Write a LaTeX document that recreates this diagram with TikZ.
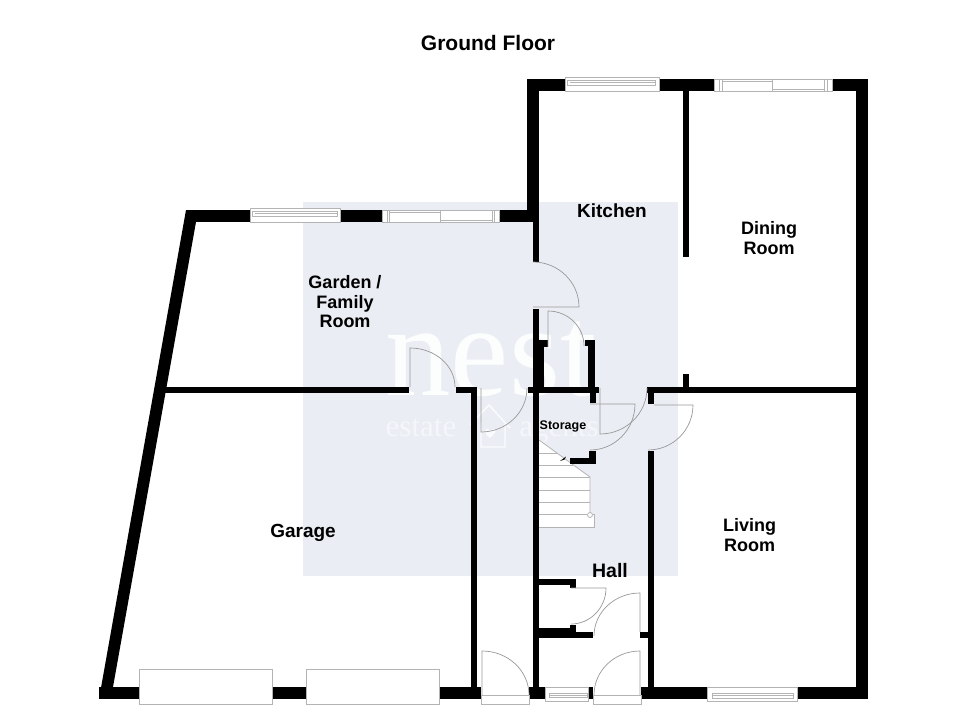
\documentclass[tikz,border=0pt]{standalone}
\usepackage{fontspec}
\setmainfont{Liberation Sans}
\newfontfamily\wmfont{Liberation Serif}
\usetikzlibrary{calc}
\definecolor{wmbg}{HTML}{EAEDF3}
\definecolor{doorgrey}{HTML}{999999}
\definecolor{wingrey}{HTML}{B4B4B4}
\tikzset{
  wallfill/.style={fill=black},
  doorline/.style={draw=doorgrey,line width=0.7pt},
  winbox/.style={draw=wingrey,fill=white,line width=0.9pt},
  winline/.style={draw=wingrey,line width=0.7pt},
  stairline/.style={draw=wingrey,line width=0.8pt},
  wmark/.style={white,inner sep=0,anchor=base},
  roomlabel/.style={font=\bfseries\fontsize{18}{19.5}\selectfont,align=center,text=black,inner sep=0},
}
\newcommand{\wallbox}[4]{\fill[wallfill] (#1,#2) rectangle (#3,#4);}
% hinge h, swing start s, swing end e, corner p
\newcommand{\swing}[8]{\draw[doorline] (#1,#2) -- (#3,#4) .. controls ($(#3,#4)!.5523!(#7,#8)$) and ($(#5,#6)!.5523!(#7,#8)$) .. (#5,#6);}
\begin{document}
\begin{tikzpicture}[x=1pt,y=-1pt]
\useasboundingbox (0,0) rectangle (980,712);
\fill[white] (0,0) rectangle (980,712);
\fill[wmbg] (303,202) rectangle (678,576);
% watermark
\node[wmark,opacity=0.9,font=\wmfont\fontsize{131}{131}\selectfont] (wmnest) at (491,395) {nest};
\node[wmark,opacity=0.55,font=\wmfont\fontsize{31}{31}\selectfont] (wmestate) at (421,436) {estate};
\node[wmark,opacity=0.55,font=\wmfont\fontsize{31}{31}\selectfont] (wmagents) at (559,436) {agents};
\draw[white,opacity=0.8,line width=1.4pt,line join=miter] (470,425) -- (489,405) -- (510,428) (505,423) -- (505,447) -- (481,447) -- (481,423);
\fill[white,opacity=0.8] (490,438) .. controls (484,433) and (484,429) .. (487,429) .. controls (489,429) and (490,431) .. (490,431) .. controls (490,431) and (492,429) .. (494,429) .. controls (497,429) and (496,433) .. (490,438) -- cycle;
% stairs
\fill[white] (539,440) -- (590,477) -- (590,514) -- (594,514) -- (594,527) -- (539,527) -- cycle;
\draw[stairline] (539,440) -- (590,477) -- (590,512);
\draw[stairline] (539,453) -- (557,453);
\draw[stairline] (539,465) -- (573,465);
\foreach \ty in {477,490,502}{\draw[stairline] (539,\ty) -- (590,\ty);}
\draw[stairline] (539,514) -- (587,514);
\draw[stairline] (593,514) -- (594,514) -- (594,527) -- (539,527);
\draw[stairline,fill=white] (590,515) circle (2.5);
\fill[black] (560,461) -- (566,456.5) -- (564.5,459.5) -- cycle;
% outer and inner walls
\fill[wallfill] (186,210) -- (99,699) -- (113,687) -- (196,222) -- cycle;
\wallbox{99}{687}{481}{699}
\wallbox{186}{210}{539}{222}
\wallbox{527}{79}{539}{222}
\wallbox{527}{79}{868}{91}
\wallbox{856}{79}{868}{699}
\wallbox{641}{687}{868}{699}
\wallbox{529}{687}{593}{699}
\wallbox{683}{91}{689}{257}
\wallbox{533}{222}{539}{262}
\wallbox{533}{309}{539}{699}
\wallbox{533}{340}{544}{387}
\wallbox{540}{340}{548}{347}
\wallbox{528}{387}{599}{393}
\wallbox{588}{340}{594.5}{387}
\wallbox{585}{340}{594.5}{346}
\wallbox{590}{393}{596}{403}
\wallbox{569.5}{458}{596}{464}
\wallbox{589}{451}{596}{464}
\wallbox{647}{387}{856}{393}
\wallbox{683}{374}{689}{387}
\wallbox{648}{393}{654}{404}
\wallbox{648}{451}{654}{699}
\wallbox{160}{387}{409}{393}
\wallbox{456}{387}{477}{393}
\wallbox{471}{387}{477}{699}
\wallbox{539}{579}{576}{585}
\wallbox{570}{579}{576}{588}
\wallbox{539}{628}{576}{638}
\wallbox{570}{625}{576}{638}
\wallbox{539}{632}{593}{638}
\wallbox{640}{632}{648}{638}
% windows
\draw[winbox] (565,77) rectangle (659,91);
\draw[winline] (567,80) rectangle (655,85);
\draw[winline] (570,82) -- (655,82);
\draw[winbox] (714,79) rectangle (832,91);
\draw[winline] (719,79) -- (719,91) (722,79) -- (722,91) (824,79) -- (824,91) (827,79) -- (827,91);
\draw[winline] (722,81) -- (772,81) (772,79) -- (772,91) (772,89) -- (824,89);
\draw[winbox] (250,208) rectangle (340,222);
\draw[winline] (252,211) rectangle (337,216);
\draw[winline] (255,213) -- (337,213);
\draw[winbox] (382,210) rectangle (499,222);
\draw[winline] (387,210) -- (387,222) (389.5,210) -- (389.5,222) (492,210) -- (492,222) (494.5,210) -- (494.5,222);
\draw[winline] (389.5,212) -- (440,212) (440,210) -- (440,222) (440,220) -- (492,220);
\draw[winbox] (139,669) rectangle (272,704);
\draw[winbox] (306,669) rectangle (439,704);
\draw[winbox] (707,687) rectangle (797,701);
\draw[winline] (712,693) rectangle (793,698);
\draw[winline] (712,695.5) -- (793,695.5);
\draw[winbox] (545,687) rectangle (588,701);
\draw[winline] (549,693) rectangle (587,697);
\draw[winline] (549,695) -- (587,695);
% sills
\draw[winbox] (481,695) rectangle (529,704);
\draw[winbox] (593,695) rectangle (641,704);
% doors: hinge, leaf end, swing end, corner
\swing{533}{307}{579}{307}{533}{262}{579}{262}
\swing{548}{347}{548}{311}{584}{346}{584}{311}
\swing{600}{388}{600}{434}{647}{388}{647}{434}
\swing{590}{404}{635}{404}{590}{450}{635}{450}
\swing{654}{405}{693}{405}{648}{450}{693}{450}
\swing{481}{388}{481}{432}{527}{388}{527}{432}
\swing{410}{387}{410}{348}{455}{387}{455}{348}
\swing{571}{588}{606}{588}{571}{624}{606}{624}
\swing{640}{632}{640}{593}{594}{636}{594}{593}
\swing{640}{695}{640}{651}{594}{695}{594}{651}
\swing{482}{695}{482}{651}{529}{695}{529}{651}
% labels
\node[font=\bfseries\fontsize{21}{22}\selectfont,inner sep=0,text=black] (title) at (488,43) {Ground Floor};
\node[roomlabel,font=\bfseries\fontsize{19}{20}\selectfont] (kitchen) at (612,211) {Kitchen};
\node[roomlabel] (dining) at (769,238) {Dining\\Room};
\node[roomlabel] (garden) at (345,302) {Garden /\\Family\\Room};
\node[roomlabel,font=\bfseries\fontsize{19}{20}\selectfont] (garage) at (303,533) {Garage};
\node[roomlabel] (living) at (749.5,535) {Living\\Room};
\node[roomlabel,font=\bfseries\fontsize{19.5}{20}\selectfont] (hall) at (610,571) {Hall};
\node[font=\bfseries\fontsize{12.5}{14}\selectfont,inner sep=0,text=black] (storage) at (563,426) {Storage};
\end{tikzpicture}
\end{document}
